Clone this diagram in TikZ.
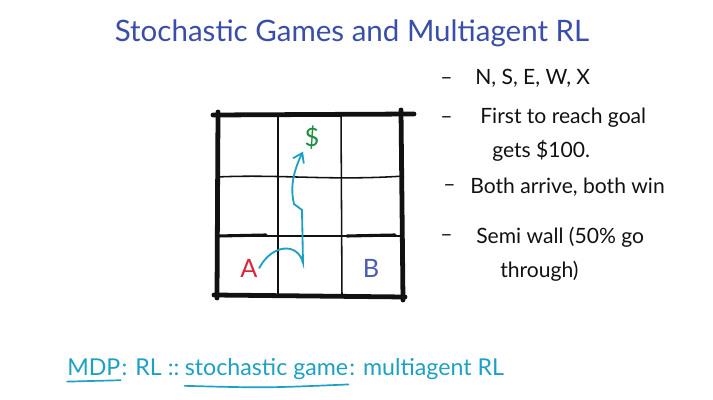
\documentclass[tikz,border=0pt]{standalone}
\usepackage{fontspec}
\setmainfont{Lato}
\usetikzlibrary{arrows.meta, positioning, calc}
\definecolor{titleBlue}{HTML}{3A4DA8}
\definecolor{penTeal}{HTML}{1DA0C3}
\definecolor{goalGreen}{HTML}{1E8C3C}
\definecolor{agentRed}{HTML}{D7263D}
\definecolor{agentBlue}{HTML}{4B5BB2}
\definecolor{ink}{HTML}{111111}

\begin{document}
\begin{tikzpicture}[
    % Global Styles
    x=0.025cm, y=-0.025cm,
    % Text Styles
    heading/.style={
        text=titleBlue,
        font=\fontsize{21}{25}\selectfont,
        inner sep=0pt
    },
    note/.style={
        anchor=base west,
        text=ink,
        font=\fontsize{15}{18}\selectfont,
        inner sep=0pt
    },
    analogy/.style={
        anchor=base west,
        text=penTeal,
        font=\fontsize{16.5}{20}\selectfont,
        inner sep=0pt
    },
    agent/.style={
        font=\fontsize{18}{20}\selectfont,
        inner sep=1pt
    },
    % Grid Styles
    cellline/.style={draw=ink, line width=1.1pt},
    border/.style={draw=ink, line width=3.4pt, line cap=round},
    semiwall/.style={draw=ink, line width=2.2pt, line cap=round},
    % Arrow Styles
    move/.style={
        -{Straight Barb[length=2.2mm, width=3mm]},
        draw=penTeal,
        line width=1.3pt,
        line cap=round
    },
    underline/.style={draw=penTeal, line width=1.2pt, line cap=round}
]
    \useasboundingbox (0,0) rectangle (713,400);

    % --- Title ---
    \node[heading] (title) at (352,33) {Stochastic Games and Multiagent RL};

    % --- Grid ---

    % Inner cell lines
    \draw[cellline] (278,113) -- (278,297);
    \draw[cellline] (341,113) -- (342,297);
    \draw[cellline] (217,177) .. controls (280,174) and (330,181) .. (404,176);
    \draw[cellline] (217,236) -- (402,236);

    % Semi walls above the agents
    \draw[semiwall] (218,236) -- (266,235);
    \draw[semiwall] (347,236) -- (395,235);

    % Outer walls
    \draw[border] (213,115) -- (414,114);
    \draw[border] (214,295) -- (405,297);
    \draw[border] (218,112) -- (217,298);
    \draw[border] (401,110) -- (403,300);

    % Goal and agents
    \node[agent, text=goalGreen] (goal) at (312,138) {\$};
    \node[agent, text=agentRed] (agentA) at (249,268) {A};
    \node[agent, text=agentBlue] (agentB) at (371,268) {B};

    % Path of A to the goal
    \draw[move] (agentA.east) .. controls (272,244) and (298,242) .. (303,263)
        -- (302,210) -- (294,204) .. controls (291,192) and (291,176) .. (goal.south west);

    % --- Rules ---
    \node[note] (d1) at (440,85) {--};
    \node[note] (r1) at (475,85) {N, S, E, W, X};
    \node[note] (d2) at (440,124) {--};
    \node[note] (r2) at (480,124) {First to reach goal};
    \node[note] (r2b) at (492,158) {gets \$100.};
    \node[note] (d3) at (443,192) {--};
    \node[note] (r3) at (470,194) {Both arrive, both win};
    \node[note] (d4) at (440,242) {--};
    \node[note] (r4) at (476,244) {Semi wall (50\% go};
    \node[note] (r4b) at (500,278) {through)};

    % --- Analogy ---
    \node[analogy] (mdp) at (67,376) {MDP};
    \node[analogy, base right=0.05em of mdp] (rl) {: RL ::};
    \node[analogy, base right=0.35em of rl] (sg) {stochastic game};
    \node[analogy, base right=0.05em of sg] (marl) {: multiagent RL};

    % Underlines
    \draw[underline] ([yshift=-4pt]mdp.base west) -- ([yshift=-3pt]mdp.base east);
    \draw[underline] ([yshift=-7pt]sg.base west) .. controls ([yshift=-8.5pt]sg.base) .. ([yshift=-6pt]sg.base east);

\end{tikzpicture}
\end{document}
